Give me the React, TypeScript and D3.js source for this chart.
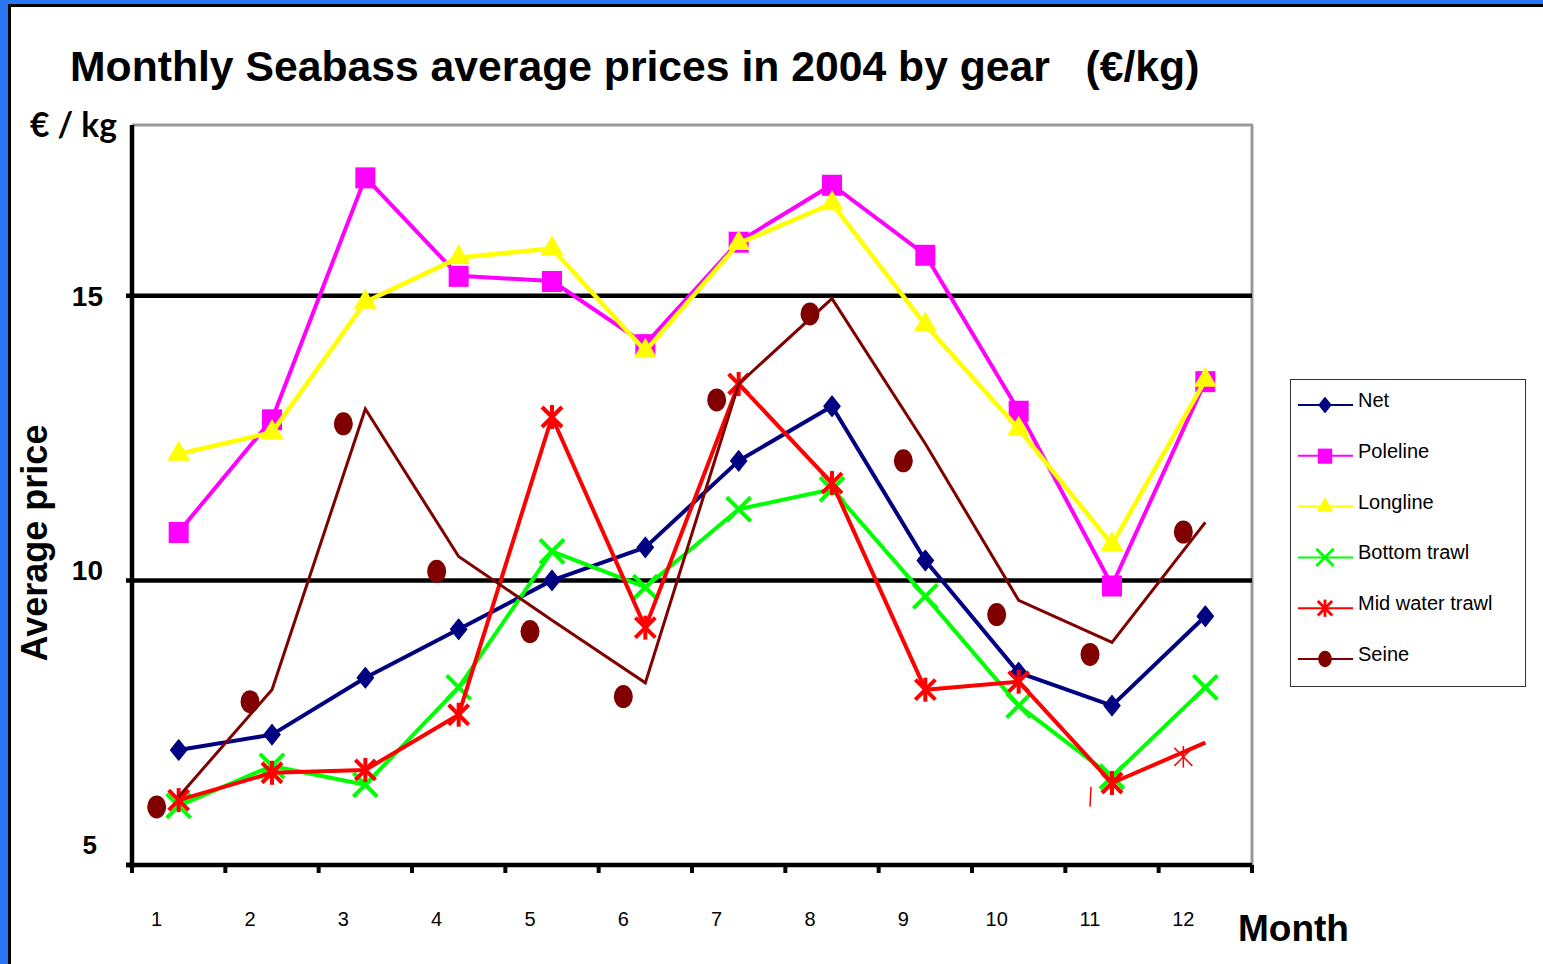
import React from "react";
import * as d3 from "d3";

const months = ["1", "2", "3", "4", "5", "6", "7", "8", "9", "10", "11", "12"];
const yTicks = [5, 10, 15];

const net = [7.02, 7.29, 8.29, 9.14, 10.0, 10.58, 12.1, 13.06, 10.35, 8.38, 7.8, 9.37];
const poleline = [10.85, 12.83, 17.08, 15.35, 15.26, 14.15, 15.95, 16.95, 15.72, 12.98, 9.91, 13.5];
const longline = [12.22, 12.6, 14.89, 15.67, 15.83, 14.03, 15.92, 16.62, 14.49, 12.66, 10.63, 13.52];
const bottomTrawl = [6.04, 6.74, 6.41, 8.12, 10.51, 9.88, 11.25, 11.6, 9.72, 7.8, 6.55, 8.12];
const midWaterTrawl = [6.14, 6.62, 6.67, 7.64, 12.87, 9.17, 13.45, 11.71, 8.08, 8.22, 6.44, 7.15];
const midWaterMarked = [true, true, true, true, true, true, true, true, true, true, true, false];
const midWaterGhost = [null, null, null, null, null, null, null, null, null, null, 6.2, 6.9];
const seineLine = [6.2, 8.08, 13.01, 10.42, 9.3, 8.2, 13.45, 14.95, 12.4, 9.65, 8.91, 11.02];
const seineDots = [6.02, 7.87, 12.75, 10.16, 9.1, 7.96, 13.17, 14.68, 12.1, 9.4, 8.7, 10.85];

const seriesNames = ["Net", "Poleline", "Longline", "Bottom trawl", "Mid water trawl", "Seine"];
const seriesColors = ["#000080", "#FF00FF", "#FFFF00", "#00FF00", "#FF0000", "#800000"];

const W = 1543;
const H = 964;

const x = d3.scaleBand<string>().domain(months).range([132, 1252]).padding(0);
const y = d3.scaleLinear().domain([5, 18]).range([865, 125]);
const cx = (i: number) => (x(months[i]) as number) + x.bandwidth() / 2;
const labelShift = -22;

function Marker({ kind, px, py, color, scale = 1, thin = false }: { kind: string; px: number; py: number; color: string; scale?: number; thin?: boolean }) {
  if (kind === "diamond") {
    const w = 8 * scale;
    const h = 10 * scale;
    return (
      <path
        d={`M${px},${py - h}L${px + w},${py}L${px},${py + h}L${px - w},${py}Z`}
        fill={color}
        stroke={color}
        strokeWidth={1.5}
        strokeLinejoin="round"
      />
    );
  }
  if (kind === "square") {
    const s = 20 * scale;
    return <rect x={px - s / 2} y={py - s / 2} width={s} height={s * 1.05} fill={color} />;
  }
  if (kind === "triangle") {
    const p = d3.symbol().type(d3.symbolTriangle).size(230 * scale * scale)();
    return <path d={p as string} transform={`translate(${px},${py})`} fill={color} />;
  }
  if (kind === "x") {
    const s = 12 * scale;
    return (
      <g stroke={color} strokeWidth={4 * Math.max(scale, 0.5)}>
        <line x1={px - s} y1={py - s} x2={px + s} y2={py + s} />
        <line x1={px - s} y1={py + s} x2={px + s} y2={py - s} />
      </g>
    );
  }
  if (kind === "star") {
    const s = 10 * scale;
    return (
      <g stroke={color} strokeWidth={thin ? 1.5 : 4 * Math.max(scale, 0.45)}>
        <line x1={px - s} y1={py - s} x2={px + s} y2={py + s} />
        <line x1={px - s} y1={py + s} x2={px + s} y2={py - s} />
        <line x1={px} y1={py - s * 1.2} x2={px} y2={py + s * 1.2} />
      </g>
    );
  }
  return <ellipse cx={px} cy={py} rx={9.5 * scale} ry={11.5 * scale} fill={color} />;
}

export default function App() {
  const line = d3
    .line<number>()
    .x((_, i) => cx(i))
    .y((d) => y(d));

  const markerSeries = [
    { vals: net, kind: "diamond", color: seriesColors[0], w: 4, marked: null as boolean[] | null },
    { vals: poleline, kind: "square", color: seriesColors[1], w: 4, marked: null },
    { vals: longline, kind: "triangle", color: seriesColors[2], w: 4.5, marked: null },
    { vals: bottomTrawl, kind: "x", color: seriesColors[3], w: 4, marked: null },
    { vals: midWaterTrawl, kind: "star", color: seriesColors[4], w: 4, marked: midWaterMarked },
  ];
  const legendKinds = ["diamond", "square", "triangle", "x", "star", "dot"];

  const font = "'Liberation Sans', Arial, sans-serif";

  return (
    <svg width={W} height={H} style={{ position: "absolute", left: 0, top: 0, background: "#fff" }}>
      {/* frame */}
      <rect x={0} y={0} width={W} height={H} fill="#fff" />
      <rect x={0} y={0} width={W} height={4} fill="#2B76F3" />
      <rect x={0} y={0} width={8} height={H} fill="#2B76F3" />
      <rect x={8} y={4} width={W - 8} height={3} fill="#000" />
      <rect x={8} y={4} width={3} height={H - 4} fill="#000" />

      {/* title */}
      <text x={70} y={81} fontFamily={font} fontWeight="bold" fontSize={42.7} style={{ whiteSpace: "pre" }}>
        {"Monthly Seabass average prices in 2004 by gear   (€/kg)"}
      </text>
      <text x={30} y={137} fontFamily="Lato, 'Open Sans', sans-serif" fontWeight="bold" fontSize={33.5}>
        € / kg
      </text>
      <text
        transform={`translate(47,543) rotate(-90)`}
        textAnchor="middle"
        fontFamily={font}
        fontWeight="bold"
        fontSize={36}
      >
        Average price
      </text>
      <text x={1238} y={941} fontFamily={font} fontWeight="bold" fontSize={37}>
        Month
      </text>

      {/* plot border */}
      <line x1={132} y1={125} x2={1253} y2={125} stroke="#999" strokeWidth={3} />
      <line x1={1252} y1={125} x2={1252} y2={866} stroke="#999" strokeWidth={3} />

      {/* gridlines */}
      {yTicks
        .filter((t) => t !== 5)
        .map((t) => (
          <line key={t} x1={126} x2={1252} y1={y(t)} y2={y(t)} stroke="#000" strokeWidth={4.5} />
        ))}

      {/* axes */}
      <line x1={132} y1={125} x2={132} y2={868} stroke="#000" strokeWidth={4.5} />
      <line x1={126} y1={865} x2={1252} y2={865} stroke="#000" strokeWidth={4.5} />
      <line x1={126} y1={y(5)} x2={132} y2={y(5)} stroke="#000" strokeWidth={4.5} />
      {months.concat(["end"]).map((m, i) => {
        const tx = 132 + i * x.bandwidth();
        return <line key={m} x1={tx} x2={tx} y1={865} y2={873} stroke="#000" strokeWidth={4} />;
      })}

      {/* y tick labels */}
      {yTicks.map((t) => {
        const off = t === 15 ? 10 : t === 10 ? 0 : -11;
        return (
          <text
            key={t}
            x={t === 5 ? 97 : 103}
            y={y(t) + off}
            textAnchor="end"
            fontFamily={font}
            fontWeight="bold"
            fontSize={t === 5 ? 26 : 28}
          >
            {t}
          </text>
        );
      })}

      {/* x tick labels */}
      {months.map((m, i) => (
        <text key={m} x={cx(i) + labelShift} y={926} textAnchor="middle" fontFamily={font} fontSize={20}>
          {m}
        </text>
      ))}

      {/* series */}
      {markerSeries.map((s, si) => (
        <g key={si}>
          <path d={line(s.vals) as string} fill="none" stroke={s.color} strokeWidth={s.w} strokeLinejoin="round" />
          {s.vals.map((v, i) =>
            s.marked && !s.marked[i] ? null : (
              <Marker key={i} kind={s.kind} px={cx(i)} py={y(v)} color={s.color} />
            )
          )}
        </g>
      ))}

      {/* mid water trawl stray marks */}
      {midWaterGhost.map((v, i) =>
        v == null ? null : i === 11 ? (
          <Marker key={i} kind="star" px={cx(i) + labelShift} py={y(v)} color={seriesColors[4]} scale={0.9} thin />
        ) : (
          <line
            key={i}
            x1={cx(i) + labelShift + 1}
            x2={cx(i) + labelShift}
            y1={y(v) - 10}
            y2={y(v) + 10}
            stroke={seriesColors[4]}
            strokeWidth={1.5}
          />
        )
      )}

      {/* seine */}
      <path d={line(seineLine) as string} fill="none" stroke={seriesColors[5]} strokeWidth={3} />
      {seineDots.map((v, i) => (
        <Marker key={i} kind="dot" px={cx(i) + labelShift} py={y(v)} color={seriesColors[5]} />
      ))}

      {/* legend */}
      <rect x={1290.5} y={379.5} width={235} height={307} fill="#fff" stroke="#333" strokeWidth={1} />
      {seriesNames.map((n, i) => {
        const ly = 405 + i * 50.8;
        return (
          <g key={n}>
            <line x1={1298} x2={1353} y1={ly} y2={ly} stroke={seriesColors[i]} strokeWidth={2} />
            <Marker kind={legendKinds[i]} px={1325} py={ly} color={seriesColors[i]} scale={0.72} />
            <text x={1358} y={ly + 2} fontFamily={font} fontSize={20}>
              {n}
            </text>
          </g>
        );
      })}
    </svg>
  );
}
